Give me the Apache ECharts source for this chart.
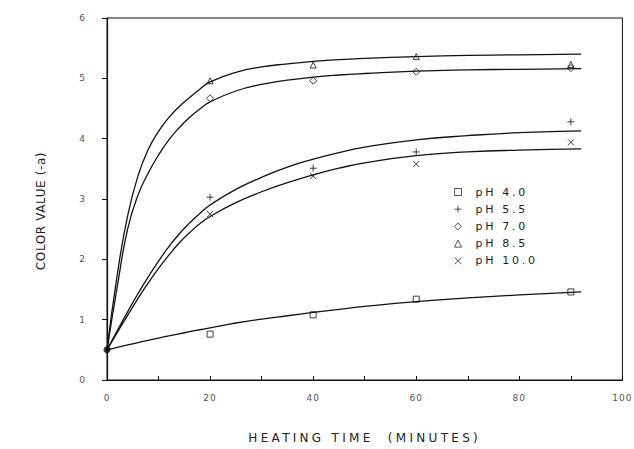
<!DOCTYPE html>
<html>
<head>
<meta charset="utf-8">
<script src="https://cdn.jsdelivr.net/npm/echarts@6/dist/echarts.min.js"></script>
<style>
  html, body { margin: 0; padding: 0; background: #fff; }
  #chart { width: 634px; height: 449px; }
</style>
</head>
<body>
<div id="chart"></div>
<script>
// Measured points (heating time in minutes, color value -a)
const sampleTimes = [20, 40, 60, 90];
const ph40 = [0.76, 1.08, 1.34, 1.46];
const ph55 = [3.03, 3.51, 3.78, 4.28];
const ph70 = [4.67, 4.96, 5.11, 5.17];
const ph85 = [4.96, 5.22, 5.36, 5.23];
const ph100 = [2.75, 3.38, 3.58, 3.94];
const startTime = [0];
const startValue = [0.5];

// Fitted curves
const curveX = [0, 2, 4, 6, 8, 10, 12, 14, 16, 18, 20, 25, 30, 35, 40, 45, 50, 60, 70, 80, 92];
const fit40 = [0.5, 0.541, 0.581, 0.62, 0.658, 0.695, 0.731, 0.766, 0.8, 0.833, 0.865, 0.945, 1.01, 1.065, 1.12, 1.17, 1.22, 1.30, 1.36, 1.41, 1.46];
const fit55 = [0.5, 0.82, 1.13, 1.43, 1.71, 1.97, 2.21, 2.42, 2.6, 2.76, 2.9, 3.16, 3.36, 3.53, 3.66, 3.77, 3.86, 3.98, 4.05, 4.10, 4.13];
const fit70 = [0.5, 1.55, 2.5, 3.06, 3.43, 3.73, 3.98, 4.18, 4.35, 4.49, 4.61, 4.79, 4.9, 4.97, 5.02, 5.055, 5.08, 5.12, 5.14, 5.15, 5.16];
const fit85 = [0.5, 1.75, 2.72, 3.38, 3.82, 4.12, 4.35, 4.53, 4.68, 4.82, 4.94, 5.1, 5.19, 5.24, 5.28, 5.31, 5.33, 5.36, 5.38, 5.39, 5.40];
const fit100 = [0.5, 0.79, 1.07, 1.35, 1.61, 1.85, 2.07, 2.27, 2.44, 2.59, 2.71, 2.94, 3.12, 3.27, 3.40, 3.51, 3.60, 3.72, 3.78, 3.81, 3.83];

const legendNames = ['pH 4.0', 'pH 5.5', 'pH 7.0', 'pH 8.5', 'pH 10.0'];
const xTicks = [0, 20, 40, 60, 80, 100];
const xTitle = 'HEATING TIME  (MINUTES)';
const yTitle = 'COLOR VALUE (-a)';

const zip = (xs, ys) => xs.map((x, i) => [x, ys[i]]);
const PLUS = 'path://M0,5L10,5M5,0L5,10';
const CROSS = 'path://M0,0L10,10M10,0L0,10';

const markerStyle = { color: 'none', borderColor: '#111', borderWidth: 1 };
function scatter(name, ys, symbol, size) {
  return {
    name: name, type: 'scatter', data: zip(sampleTimes, ys),
    symbol: symbol, symbolSize: size, itemStyle: markerStyle, z: 3
  };
}
function curve(ys) {
  return {
    type: 'line', data: zip(curveX, ys), showSymbol: false, smooth: true,
    silent: true, lineStyle: { color: '#111', width: 1.3 }, z: 2
  };
}

const chart = echarts.init(document.getElementById('chart'), null, { renderer: 'svg' });
chart.setOption({
  animation: false,
  backgroundColor: '#fff',
  textStyle: { fontFamily: 'DejaVu Sans, sans-serif' },
  grid: { left: 107, right: 11, top: 18, bottom: 69, show: true, borderColor: '#111', borderWidth: 1 },
  legend: {
    orient: 'vertical', left: 452, top: 186, padding: 0,
    itemWidth: 7, itemHeight: 7, itemGap: 5.2,
    data: legendNames,
    itemStyle: { borderWidth: 0.9 },
    textStyle: { fontSize: 11, color: '#222', padding: [0, 0, 0, 9] }
  },
  xAxis: {
    type: 'value', min: 0, max: 100, interval: 20,
    name: xTitle, nameLocation: 'middle', nameGap: 52,
    nameTextStyle: { fontSize: 12, color: '#222' },
    axisLine: { lineStyle: { color: '#111', width: 1.2 } },
    axisTick: { inside: true, length: 4, lineStyle: { color: '#111' } },
    minorTick: { show: true, splitNumber: 2, length: 4, lineStyle: { color: '#111' } },
    splitLine: { show: false },
    axisLabel: { fontSize: 9, color: '#555', margin: 13,
      formatter: v => xTicks.indexOf(v) >= 0 ? String(v) : '' }
  },
  yAxis: {
    type: 'value', min: 0, max: 6, interval: 1,
    name: yTitle, nameLocation: 'middle', nameGap: 60, nameRotate: 90,
    nameTextStyle: { fontSize: 12, color: '#222', padding: [0, 24, 0, 0] },
    axisLine: { lineStyle: { color: '#111', width: 1.2 } },
    axisTick: { inside: false, length: 5, lineStyle: { color: '#111' } },
    splitLine: { show: false },
    axisLabel: { fontSize: 9, color: '#555', margin: 21 }
  },
  series: [
    curve(fit40), curve(fit55), curve(fit70), curve(fit85), curve(fit100),
    scatter('pH 4.0', ph40, 'rect', 6),
    scatter('pH 5.5', ph55, PLUS, 7),
    scatter('pH 7.0', ph70, 'diamond', 7),
    scatter('pH 8.5', ph85, 'triangle', 6),
    scatter('pH 10.0', ph100, CROSS, 6),
    {
      type: 'scatter', data: zip(startTime, startValue), symbol: 'circle', symbolSize: 7,
      itemStyle: { color: '#000' }, z: 4, silent: true
    }
  ]
});

// Typewriter-like wide letter spacing of the original figure
document.querySelectorAll('#chart svg text').forEach(t => {
  const s = t.textContent;
  let sp = '1px';
  if (s === xTitle) sp = '3.3px';
  else if (s === yTitle) sp = '0.6px';
  else if (legendNames.indexOf(s) >= 0) sp = '2.7px';
  t.style.letterSpacing = sp;
});
</script>
</body>
</html>
